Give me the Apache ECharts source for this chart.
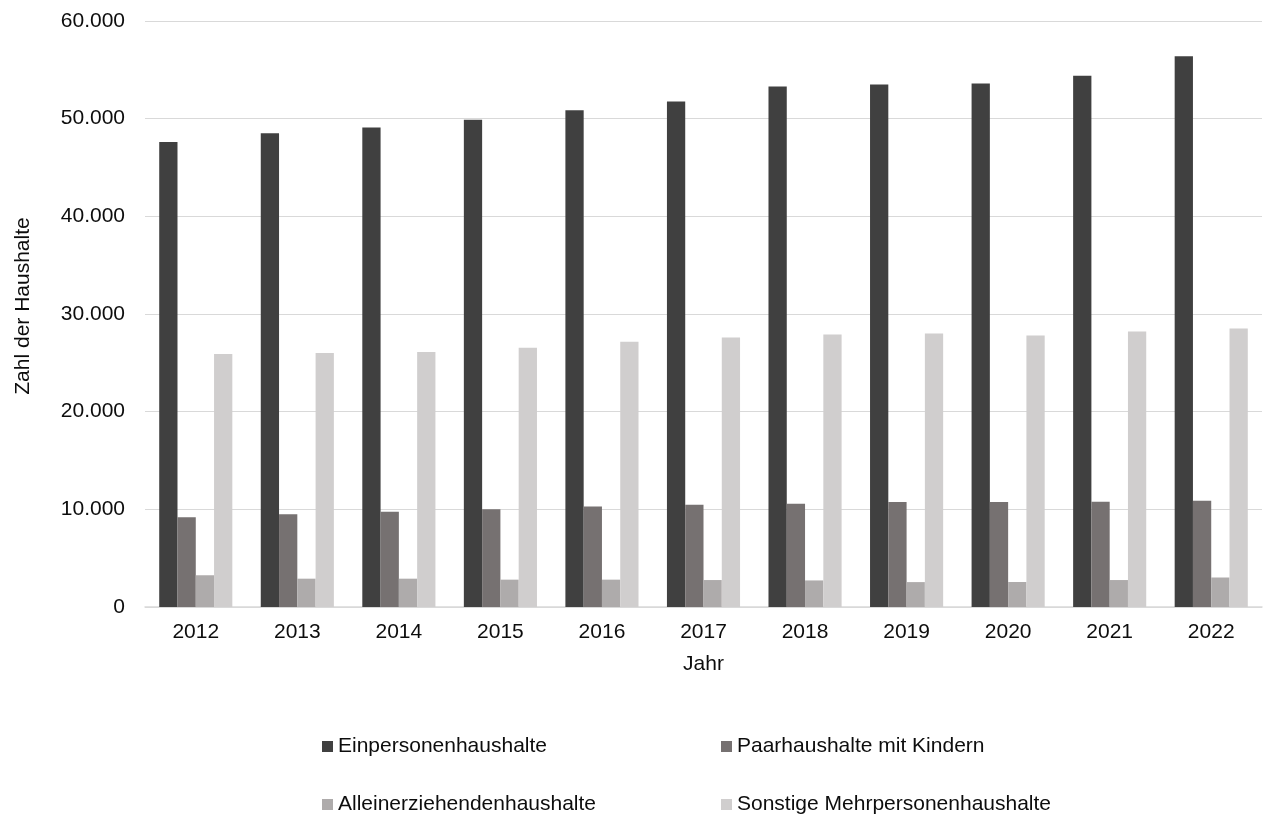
<!DOCTYPE html>
<html>
<head>
<meta charset="utf-8">
<title>Haushalte nach Haushaltstyp</title>
<script src="https://cdn.jsdelivr.net/npm/echarts@6/dist/echarts.min.js"></script>
<style>
  html, body { margin: 0; padding: 0; background: #ffffff; }
  #chart { width: 1264px; height: 820px; }
</style>
</head>
<body>
<div id="chart"></div>
<script>
// Years on the category axis
const years = ['2012', '2013', '2014', '2015', '2016', '2017', '2018', '2019', '2020', '2021', '2022'];

// Number of households per household type
const einpersonen = [47600, 48500, 49100, 49900, 50850, 51750, 53300, 53500, 53600, 54400, 56400];
const paarMitKindern = [9200, 9500, 9750, 10000, 10300, 10460, 10560, 10750, 10750, 10780, 10870];
const alleinerziehende = [3250, 2900, 2900, 2800, 2800, 2760, 2720, 2550, 2560, 2760, 3020];
const sonstigeMehrpersonen = [25900, 26000, 26100, 26550, 27150, 27600, 27900, 28000, 27800, 28200, 28520];

const seriesNames = [
  'Einpersonenhaushalte',
  'Paarhaushalte mit Kindern',
  'Alleinerziehendenhaushalte',
  'Sonstige Mehrpersonenhaushalte'
];
const seriesColors = ['#404040', '#767171', '#AEABAB', '#D0CECE'];
const seriesData = [einpersonen, paarMitKindern, alleinerziehende, sonstigeMehrpersonen];

const FONT = '"Liberation Sans", Arial, sans-serif';
const TEXT = '#0d0d0d';

// German thousands separator: 60000 -> "60.000"
function deNumber(v) {
  return String(v).replace(/\B(?=(\d{3})+(?!\d))/g, '.');
}

// One legend block per entry, laid out as a 2 x 2 grid
const legendSlots = [
  { left: 322, top: 736 },
  { left: 721, top: 736 },
  { left: 322, top: 794 },
  { left: 721, top: 794 }
];
const legends = seriesNames.map((name, i) => ({
  data: [name],
  left: legendSlots[i].left,
  top: legendSlots[i].top,
  padding: 0,
  icon: 'rect',
  itemWidth: 11,
  itemHeight: 11,
  selectedMode: false,
  textStyle: { fontFamily: FONT, fontSize: 21, color: TEXT, padding: [0, 0, 0, 0] }
}));

const chart = echarts.init(document.getElementById('chart'), null, { renderer: 'canvas' });

chart.setOption({
  animation: false,
  backgroundColor: '#ffffff',
  textStyle: { fontFamily: FONT },
  grid: { left: 145, right: 2, top: 21, bottom: 213, containLabel: false },
  legend: legends,
  xAxis: {
    type: 'category',
    data: years,
    name: 'Jahr',
    nameLocation: 'middle',
    nameGap: 47,
    nameTextStyle: { fontFamily: FONT, fontSize: 21, color: TEXT },
    axisLine: { lineStyle: { color: '#D9D9D9', width: 1.5 } },
    axisTick: { show: false },
    axisLabel: { fontFamily: FONT, fontSize: 21, color: TEXT, margin: 15 }
  },
  yAxis: {
    type: 'value',
    min: 0,
    max: 60000,
    interval: 10000,
    name: 'Zahl der Haushalte',
    nameLocation: 'middle',
    nameGap: 111,
    nameTextStyle: { fontFamily: FONT, fontSize: 21, color: TEXT, padding: [0, 0, 0, 16] },
    axisLine: { show: false },
    axisTick: { show: false },
    splitLine: { lineStyle: { color: '#D9D9D9', width: 1.2 } },
    axisLabel: { fontFamily: FONT, fontSize: 21, color: TEXT, margin: 20, formatter: deNumber }
  },
  series: seriesNames.map((name, i) => ({
    name: name,
    type: 'bar',
    data: seriesData[i],
    barGap: '0%',
    barCategoryGap: '28%',
    itemStyle: { color: seriesColors[i] }
  }))
});
</script>
</body>
</html>
